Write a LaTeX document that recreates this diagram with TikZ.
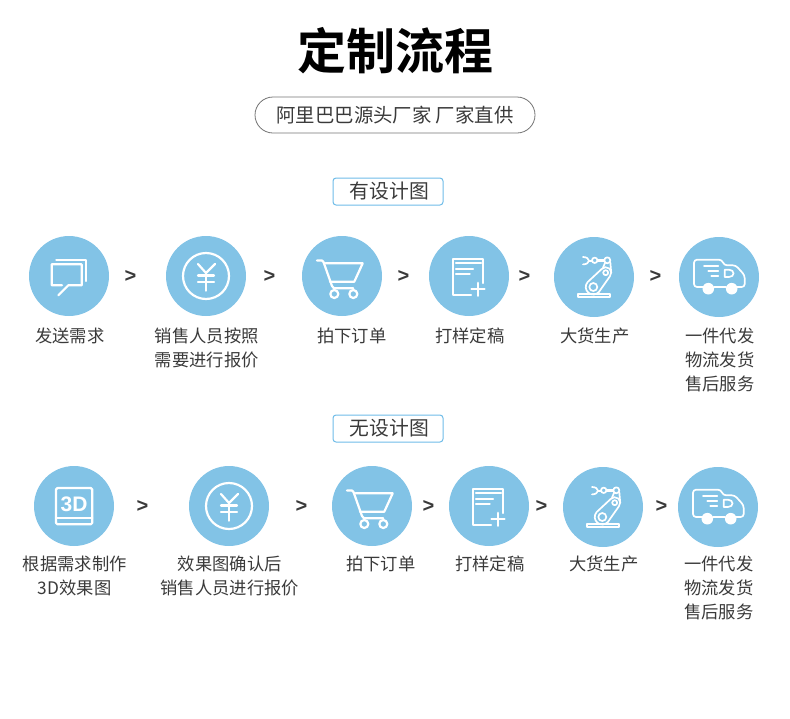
\documentclass[tikz,border=0pt]{standalone}
\usepackage{fontspec}
\usepackage{xcolor}
\usetikzlibrary{positioning}
\setmainfont{Noto Sans CJK SC}
\newfontfamily\titlefont{Noto Sans CJK SC}[BoldFont={Noto Sans CJK SC Bold}]
\newfontfamily\latinfont{Liberation Sans}
\definecolor{skyfill}{HTML}{82C3E6}
\definecolor{tagline}{HTML}{6FBCE8}
\definecolor{inktext}{HTML}{3A3A3A}

\tikzset{
    step circle/.style={circle, fill=skyfill, minimum size=80pt, inner sep=0pt, outer sep=0pt},
    step label/.style={align=center, inner sep=0pt, xshift=.7pt, text=inktext, font=\fontsize{17.3}{24}\selectfont},
    next mark/.style={inner sep=0pt, outer sep=0pt, xshift=.7pt, text=inktext, font=\latinfont\bfseries\fontsize{20}{20}\selectfont},
    tag box/.style={draw=tagline, line width=1pt, rounded corners=3pt, minimum width=110pt, minimum height=27pt,
        inner sep=0pt, text=inktext, font=\fontsize{19.8}{20}\selectfont},
    icon line/.style={draw=white, line width=2.2pt, line cap=round, line join=round},
    thin line/.style={draw=white, line width=1.7pt, line cap=round, line join=round},
    chat icon/.pic={
        \draw[icon line] (-12.7,-16) -- (17.3,-16) -- (17.3,5);
        \draw[icon line] (-7,9.3) -- (-17.3,9.3) -- (-17.3,-11.7) -- (12.7,-11.7) -- (12.7,9.3) -- (-0.7,9.3) -- (-10.7,19.3);
    },
    yen icon/.pic={
        \draw[icon line] (0,0) circle (23);
        \draw[icon line] (-8,-12) -- (0,-3) -- (9,-12);
        \draw[icon line] (0,-3) -- (0,14.7);
        \draw[icon line] (-8,-.5) -- (8,-.5);
        \draw[icon line] (-8,6.3) -- (8,6.3);
    },
    cart icon/.pic={
        \draw[icon line] (-25,-15.5) -- (-20,-15.5) -- (-18.5,-14) -- (-10,10) -- (-8,12.3) -- (11.3,12.3);
        \draw[icon line] (-16.5,-12.7) -- (20.7,-12.7) -- (12.3,5.7) -- (-12,5.7);
        \draw[icon line] (-7.7,18) circle (4);
        \draw[icon line] (11.3,18) circle (4);
    },
    draft icon/.pic={
        \draw[icon line] (14,7) -- (14,-17.3) -- (-16,-17.3) -- (-16,19.3) -- (2,19.3);
        \draw[icon line] (-13,-12.7) -- (12,-12.7);
        \draw[icon line] (-13,-7.3) -- (4,-7.3);
        \draw[icon line] (-13,-1.7) -- (.7,-1.7);
        \draw[icon line] (2.5,13.3) -- (15.5,13.3);
        \draw[icon line] (9,6.8) -- (9,19.8);
    },
    robot icon/.pic={
        \draw[thin line] (-16,17.3) rectangle (16,20);
        \draw[thin line] (-.7,10) circle (4);
        \draw[thin line] (-6.4,5.1) arc (221:41:7.5) -- (15.9,-.7) arc (41:-139:5.5) -- cycle;
        \draw[thin line] (11.7,-4.3) circle (2.5);
        \draw[thin line] (9,-9.4) -- (11.2,-14.5);
        \draw[thin line] (17.2,-4.3) -- (16.3,-15);
        \draw[thin line] (13.3,-16.7) circle (3);
        \draw[thin line] (.7,-16.7) circle (2.7);
        \draw[thin line] (3.4,-17.6) -- (10.3,-17.6);
        \draw[thin line] (3.4,-15.8) -- (10.3,-15.8);
        \draw[thin line] (-11,-20) arc (-90:90:6 and 3.7);
        \draw[thin line] (-5,-16.3) -- (-2,-16.3);
    },
    truck icon/.pic={
        \draw[thin line, rounded corners=3pt] (-16,10) -- (-25,10) -- (-25,-17.3) -- (3,-17.3) -- (5,-11.7) -- (16.7,-11.7) -- (25.7,-1.7) -- (25.7,10) -- (18,10);
        \draw[thin line] (-5,10) -- (7,10);
        \fill[white] (-10.7,11.7) circle (5.8);
        \fill[white] (12.7,11.7) circle (5.8);
        \draw[thin line] (-15,-10.7) -- (-.7,-10.7);
        \draw[thin line] (-10.7,-5.7) -- (-.7,-5.7);
        \draw[thin line] (-7.7,-.7) -- (-.7,-.7);
        \draw[thin line] (5.7,-7.3) -- (10,-7.3) .. controls (16,-7.3) and (16,0) .. (10,0) -- (5.7,0) -- cycle;
    },
    model icon/.pic={
        \draw[icon line, rounded corners=1.5pt] (-18,-18) rectangle (18.3,18.3);
        \draw[icon line] (-18,11.7) -- (18.3,11.7);
        \node[inner sep=0pt, text=white, font=\latinfont\bfseries\fontsize{21}{21}\selectfont] (threed) at (0,-1.5) {3D};
    },
}

\begin{document}
\begin{tikzpicture}[x=1pt, y=-1pt]
        \useasboundingbox (0,0) rectangle (790,718);

        % heading
        \node[inner sep=0pt, font=\titlefont\bfseries\fontsize{49}{49}\selectfont] (title) at (395,51) {定制流程};
        \node[draw=black!55, line width=.8pt, rounded corners=18pt, minimum width=280pt, minimum height=36pt, inner sep=0pt,
            text=inktext, font=\fontsize{19.4}{20}\selectfont] (slogan) at (395,115) {阿里巴巴源头厂家 厂家直供};

        % with a design
        \node[tag box] (tagone) at (388,191.5) {\hspace*{3pt}有设计图};

        \node[step circle]                   (send)  at (69,276) {};
        \node[step circle, right=57pt of send]  (quote) {};
        \node[step circle, right=56pt of quote] (order) {};
        \node[step circle, right=47pt of order] (draft) {};
        \node[step circle, right=45pt of draft, yshift=-1pt] (robot) {};
        \node[step circle, right=45pt of robot] (truck) {};

        \pic at (send)  {chat icon};
        \pic at (quote) {yen icon};
        \pic at (order) {cart icon};
        \pic at (draft) {draft icon};
        \pic at (robot) {robot icon};
        \pic at (truck) {truck icon};

        \node[next mark, right=15pt of send]  (nexta) {>};
        \node[next mark, right=17pt of quote] (nextb) {>};
        \node[next mark, right=15pt of order] (nextc) {>};
        \node[next mark, right=9pt of draft]  (nextd) {>};
        \node[next mark, right=15pt of robot, yshift=1pt] (nexte) {>};

        \node[step label, below=12pt of send]  (sendtext)  {发送需求};
        \node[step label, below=12pt of quote] (quotetext) {销售人员按照\\需要进行报价};
        \node[step label, below=12pt of order, xshift=9pt]  (ordertext) {拍下订单};
        \node[step label, below=12pt of draft] (drafttext) {打样定稿};
        \node[step label, below=11pt of robot] (robottext) {大货生产};
        \node[step label, below=11pt of truck] (trucktext) {一件代发\\物流发货\\售后服务};

        % without a design
        \node[tag box] (tagtwo) at (388,428.5) {\hspace*{3pt}无设计图};

        \node[step circle]                     (model)  at (74,506) {};
        \node[step circle, right=75pt of model]   (quotes) {};
        \node[step circle, right=63pt of quotes]  (orders) {};
        \node[step circle, right=37pt of orders]  (drafts) {};
        \node[step circle, right=34pt of drafts, yshift=-1pt] (robots) {};
        \node[step circle, right=35pt of robots]  (trucks) {};

        \pic at (model)  {model icon};
        \pic at (quotes) {yen icon};
        \pic at (orders) {cart icon};
        \pic at (drafts) {draft icon};
        \pic at (robots) {robot icon};
        \pic at (trucks) {truck icon};

        \node[next mark, right=22pt of model]  (nextf) {>};
        \node[next mark, right=26pt of quotes] (nextg) {>};
        \node[next mark, right=10pt of orders] (nexth) {>};
        \node[next mark, right=6pt of drafts]  (nexti) {>};
        \node[next mark, right=12pt of robots, yshift=1pt] (nextj) {>};

        \node[step label, below=10pt of model]  (modeltext) {根据需求制作\\3D效果图};
        \node[step label, below=10pt of quotes] (quotestext) {效果图确认后\\销售人员进行报价};
        \node[step label, below=10pt of orders, xshift=8pt] (orderstext) {拍下订单};
        \node[step label, below=10pt of drafts] (draftstext) {打样定稿};
        \node[step label, below=9pt of robots] (robotstext) {大货生产};
        \node[step label, below=9pt of trucks] (truckstext) {一件代发\\物流发货\\售后服务};
\end{tikzpicture}
\end{document}
